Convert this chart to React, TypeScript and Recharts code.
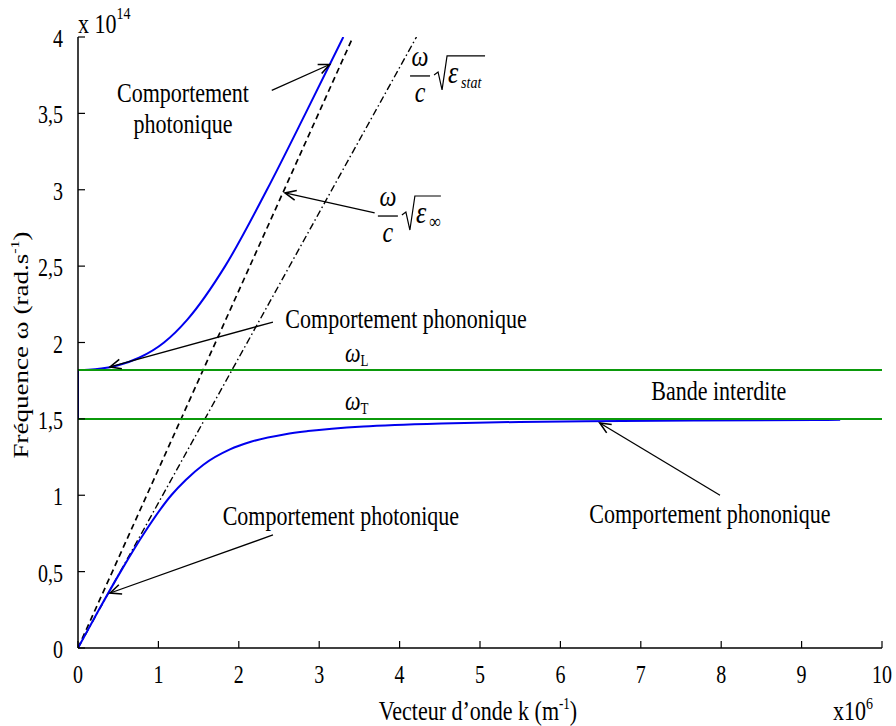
import React from 'react';
import { LineChart, Line, XAxis, YAxis, ReferenceLine, ReferenceDot } from 'recharts';

const SERIF = '"Liberation Serif", "Times New Roman", serif';
const STRETCH = 1.23;

// upper branch (photon-like above omega_L)
const kUpper = [0, 0.13, 0.29, 0.49, 0.76, 1.07, 1.36, 1.83, 2.35, 2.83, 3.3];
const wUpper = [1.82, 1.822, 1.83, 1.85, 1.9, 2.0, 2.15, 2.5, 3.0, 3.5, 4.0];

// lower branch (tends to omega_T)
const kLower = [0, 0.26, 0.53, 0.82, 1.16, 1.34, 1.56, 1.89, 2.15, 2.58, 2.86, 3.55, 3.94, 4.52, 5.49, 6.31, 7.7, 9.16, 9.48];
const wLower = [0, 0.25, 0.5, 0.75, 1.0, 1.1, 1.2, 1.3, 1.35, 1.4, 1.42, 1.45, 1.46, 1.47, 1.48, 1.485, 1.49, 1.493, 1.4935];

// blue segment on the axis between omega_T and omega_L
const kGap = [0, 0];
const wGap = [1.5, 1.82];

// light lines
const kInf = [0, 3.42];
const wInf = [0, 4];
const kStat = [0, 4.21];
const wStat = [0, 4];

// phonon levels
const kLevel = [0, 10];
const omegaL = 1.82;
const omegaT = 1.5;

const xTicks = [0, 1, 2, 3, 4, 5, 6, 7, 8, 9, 10];
const yTicks = [0, 0.5, 1, 1.5, 2, 2.5, 3, 3.5, 4];
const yTickLabels = ['0', '0,5', '1', '1,5', '2', '2,5', '3', '3,5', '4'];

const zip = (ks: number[], ws: number[]) => ks.map((k, i) => ({ k, w: ws[i] }));

const upperData = zip(kUpper, wUpper);
const lowerData = zip(kLower, wLower);
const gapData = zip(kGap, wGap);
const infData = zip(kInf, wInf);
const statData = zip(kStat, wStat);
const levelL = zip(kLevel, kLevel.map(() => omegaL));
const levelT = zip(kLevel, kLevel.map(() => omegaT));

const txt = (x: number, y: number) => `translate(${x},${y}) scale(1,${STRETCH})`;

const BottomTick = (p: any) => (
  <g>
    <line x1={p.x} y1={p.y} x2={p.x} y2={p.y - 7} stroke="#000" strokeWidth={1.2} />
    <text transform={txt(p.x, p.y + 35)} textAnchor="middle" fontFamily={SERIF} fontSize={20} fill="#000">
      {p.payload.value}
    </text>
  </g>
);
const TopTick = (p: any) => (
  <line x1={p.x} y1={p.y} x2={p.x} y2={p.y + 7} stroke="#000" strokeWidth={1.2} />
);
const LeftTick = (p: any) => (
  <g>
    <line x1={p.x} y1={p.y} x2={p.x + 7} y2={p.y} stroke="#000" strokeWidth={1.2} />
    <text transform={txt(p.x - 15, p.y + 10)} textAnchor="end" fontFamily={SERIF} fontSize={20} fill="#000">
      {yTickLabels[yTicks.indexOf(p.payload.value)]}
    </text>
  </g>
);
const RightTick = (p: any) => (
  <line x1={p.x} y1={p.y} x2={p.x - 7} y2={p.y} stroke="#000" strokeWidth={1.2} />
);

const arrowShape = (p: any) => {
  const { x1, y1, x2, y2 } = p;
  const a = Math.atan2(y2 - y1, x2 - x1);
  const h = 12;
  const s = 0.42;
  const a1 = [x2 - h * Math.cos(a - s), y2 - h * Math.sin(a - s)];
  const a2 = [x2 - h * Math.cos(a + s), y2 - h * Math.sin(a + s)];
  return (
    <g>
      <line x1={x1} y1={y1} x2={x2} y2={y2} stroke="#000" strokeWidth={1.3} />
      <path d={`M${a1[0]},${a1[1]} L${x2},${y2} L${a2[0]},${a2[1]}`} fill="none" stroke="#000" strokeWidth={1.6} />
    </g>
  );
};

const textShape = (lines: string[]) => (p: any) => (
  <g>
    {lines.map((t, i) => (
      <text key={i} transform={txt(p.cx, p.cy + i * 31)} textAnchor="middle" fontFamily={SERIF} fontSize={22} fill="#000">
        {t}
      </text>
    ))}
  </g>
);

const omegaShape = (sub: string) => (p: any) => (
  <text transform={txt(p.cx, p.cy)} fontFamily={SERIF} fontSize={22} fill="#000">
    <tspan fontStyle="italic">ω</tspan>
    <tspan fontSize={13} dy={3}>{sub}</tspan>
  </text>
);

const sqrtShape = (sub: string, barLen: number, italicSub: boolean) => (p: any) => {
  const { cx, cy } = p;
  return (
    <g fill="#000" fontFamily={SERIF}>
      <text transform={txt(cx + 10, cy - 10)} textAnchor="middle" fontSize={24} fontStyle="italic">ω</text>
      <line x1={cx} y1={cy} x2={cx + 20} y2={cy} stroke="#000" strokeWidth={1.3} />
      <text transform={txt(cx + 10, cy + 26)} textAnchor="middle" fontSize={24} fontStyle="italic">c</text>
      <path
        d={`M${cx + 24},${cy - 1} L${cx + 28},${cy - 4} L${cx + 32},${cy + 14} L${cx + 37},${cy - 20} L${cx + 37 + barLen},${cy - 20}`}
        fill="none"
        stroke="#000"
        strokeWidth={1.2}
      />
      <text transform={txt(cx + 38, cy + 7)} fontSize={26} fontStyle="italic">ε</text>
      <text transform={txt(cx + 51, cy + 12)} fontSize={italicSub ? 14 : 16} fontStyle={italicSub ? 'italic' : 'normal'}>{sub}</text>
    </g>
  );
};

export default function App() {
  return (
    <div style={{ position: 'absolute', left: 0, top: 0 }}>
      <LineChart width={896} height={726} margin={{ top: 37, right: 14, bottom: 0, left: 0 }}>
        <XAxis
          dataKey="k"
          type="number"
          domain={[0, 10]}
          ticks={xTicks}
          allowDataOverflow
          height={78}
          tickSize={0}
          tickMargin={0}
          tickLine={false}
          tick={<BottomTick />}
          axisLine={{ stroke: '#000', strokeWidth: 1.5 }}
          interval={0}
        />
        <XAxis
          xAxisId="t"
          orientation="top"
          dataKey="k"
          type="number"
          domain={[0, 10]}
          ticks={xTicks}
          allowDataOverflow
          height={0}
          tickSize={0}
          tickMargin={0}
          tickLine={false}
          tick={<TopTick />}
          axisLine={{ stroke: '#000', strokeWidth: 1.5 }}
          interval={0}
        />
        <YAxis
          type="number"
          domain={[0, 4]}
          ticks={yTicks}
          allowDataOverflow
          width={78}
          tickSize={0}
          tickMargin={0}
          tickLine={false}
          tick={<LeftTick />}
          axisLine={{ stroke: '#000', strokeWidth: 1.5 }}
          interval={0}
        />
        <YAxis
          yAxisId="r"
          orientation="right"
          type="number"
          domain={[0, 4]}
          ticks={yTicks}
          allowDataOverflow
          width={0}
          tickSize={0}
          tickMargin={0}
          tickLine={false}
          tick={<RightTick />}
          axisLine={{ stroke: '#000', strokeWidth: 1.5 }}
          interval={0}
        />

        <Line data={infData} dataKey="w" type="linear" stroke="#000" strokeWidth={1.7} strokeDasharray="6 4" dot={false} isAnimationActive={false} />
        <Line data={statData} dataKey="w" type="linear" stroke="#000" strokeWidth={1.4} strokeDasharray="7 3 1.5 3" dot={false} isAnimationActive={false} />
        <Line data={upperData} dataKey="w" type="monotone" stroke="#0000ee" strokeWidth={2} dot={false} isAnimationActive={false} />
        <Line data={lowerData} dataKey="w" type="monotone" stroke="#0000ee" strokeWidth={2} dot={false} isAnimationActive={false} />
        <Line data={gapData} dataKey="w" type="linear" stroke="#0000ee" strokeWidth={2} dot={false} isAnimationActive={false} />
        <Line xAxisId="t" yAxisId="r" data={levelL} dataKey="w" type="linear" stroke="#0b990b" strokeWidth={2} dot={false} isAnimationActive={false} />
        <Line xAxisId="t" yAxisId="r" data={levelT} dataKey="w" type="linear" stroke="#0b990b" strokeWidth={2} dot={false} isAnimationActive={false} />

        {/* arrows */}
        <ReferenceLine segment={[{ x: 2.41, y: 3.65 }, { x: 3.13, y: 3.82 }]} shape={arrowShape} />
        <ReferenceLine segment={[{ x: 3.69, y: 2.848 }, { x: 2.575, y: 2.979 }]} shape={arrowShape} />
        <ReferenceLine segment={[{ x: 2.425, y: 2.134 }, { x: 0.398, y: 1.84 }]} shape={arrowShape} />
        <ReferenceLine segment={[{ x: 7.985, y: 1.0 }, { x: 6.49, y: 1.473 }]} shape={arrowShape} />
        <ReferenceLine segment={[{ x: 2.425, y: 0.74 }, { x: 0.4, y: 0.36 }]} shape={arrowShape} />

        {/* labels */}
        <ReferenceDot x={1.306} y={3.575} r={0} shape={textShape(['Comportement', 'photonique'])} />
        <ReferenceDot x={4.08} y={2.095} r={0} shape={textShape(['Comportement phononique'])} />
        <ReferenceDot x={7.97} y={1.624} r={0} shape={textShape(['Bande interdite'])} />
        <ReferenceDot x={7.86} y={0.818} r={0} shape={textShape(['Comportement phononique'])} />
        <ReferenceDot x={3.27} y={0.805} r={0} shape={textShape(['Comportement photonique'])} />
        <ReferenceDot x={3.32} y={1.872} r={0} shape={omegaShape('L')} />
        <ReferenceDot x={3.32} y={1.558} r={0} shape={omegaShape('T')} />
        <ReferenceDot x={4.13} y={3.745} r={0} shape={sqrtShape('stat', 38, true)} />
        <ReferenceDot x={3.73} y={2.828} r={0} shape={sqrtShape('∞', 26, false)} />

        {/* axis titles and multipliers */}
        <text transform={txt(78, 33)} fontFamily={SERIF} fontSize={22} fill="#000">
          x 10<tspan fontSize={14} dy={-11}>14</tspan>
        </text>
        <text transform={txt(478, 720)} textAnchor="middle" fontFamily={SERIF} fontSize={22} fill="#000">
          Vecteur d’onde k (m<tspan fontSize={13} dy={-9}>-1</tspan><tspan dy={9}>)</tspan>
        </text>
        <text transform={txt(833, 720)} fontFamily={SERIF} fontSize={22} fill="#000">
          x10<tspan fontSize={14} dy={-9}>6</tspan>
        </text>
        <text
          transform={`translate(28,345) scale(1,${STRETCH}) rotate(-90)`}
          textAnchor="middle"
          fontFamily={SERIF}
          fontSize={22}
          fill="#000"
        >
          Fréquence ω (rad.s<tspan fontSize={13} dy={-9}>-1</tspan><tspan dy={9}>)</tspan>
        </text>
      </LineChart>
    </div>
  );
}
